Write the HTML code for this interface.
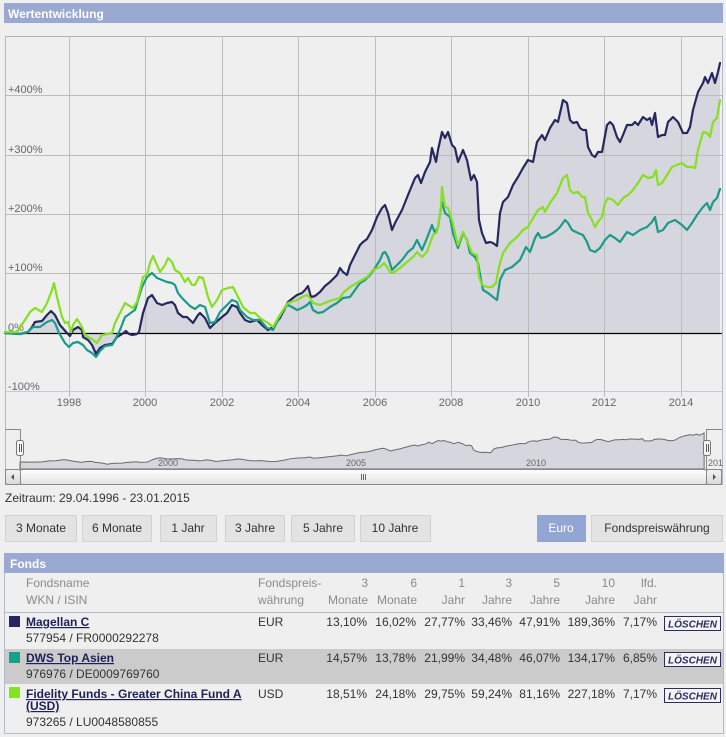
<!DOCTYPE html>
<html><head><meta charset="utf-8"><style>
html,body{margin:0;padding:0;background:#efefef;}
body{width:726px;height:737px;overflow:hidden;}
svg{display:block;font-family:"Liberation Sans",Arial,sans-serif;}
</style></head><body>
<svg width="726" height="737" viewBox="0 0 726 737" xmlns="http://www.w3.org/2000/svg">
<defs>
<linearGradient id="sb" x1="0" y1="0" x2="0" y2="1"><stop offset="0" stop-color="#ffffff"/><stop offset="1" stop-color="#e2e2e2"/></linearGradient>
<linearGradient id="btn" x1="0" y1="0" x2="0" y2="1"><stop offset="0" stop-color="#f4f4f4"/><stop offset="1" stop-color="#d8d8d8"/></linearGradient>
<clipPath id="navclip"><rect x="5" y="420" width="717" height="60"/></clipPath>
</defs>
<rect width="726" height="737" fill="#efefef"/>
<!-- Title bar -->
<rect x="4" y="3" width="719" height="20" fill="#9aa9d1"/>
<text x="8" y="18" font-size="12" font-weight="bold" fill="#ffffff">Wertentwicklung</text>

<!-- Magellan area fill -->
<polygon fill="#d6d6df" points="5,333 20,334 28,332 32,327 35,322 42,321 47,315 51,311 55,315 60,325 67,333 70,336 73,330 78,327 82,330 83,337 88,340 92,345 96,354 100,348 105,345 112,344 117,337 122,334 126,331 129,334 132,335 137,334 139,332 143,313 148,298 152,295 157,303 162,305 167,303 172,302 175,305 178,313 183,317 187,317 190,320 193,323 198,315 200,313 205,318 210,328 215,323 222,317 227,313 232,305 237,307 240,313 245,320 250,322 257,320 262,325 268,330 273,327 280,318 288,302 293,298 297,295 302,293 305,290 308,286 311,297 315,296 320,292 325,286 330,282 337,275 340,268 343,272 347,275 350,265 355,255 360,245 363,242 367,239 372,230 377,217 382,208 385,205 388,213 392,230 395,223 402,210 408,195 415,178 418,175 421,183 425,172 430,162 432,148 436,162 438,150 442,132 445,138 448,132 452,145 455,148 458,162 463,150 467,160 471,180 474,175 477,182 479,220 482,233 486,243 490,242 493,243 497,246 500,213 503,202 508,197 513,185 518,177 523,168 528,160 533,162 537,142 542,135 545,140 550,128 555,120 558,122 563,100 567,103 570,120 573,123 577,122 580,128 583,130 586,130 588,147 592,155 595,157 598,152 602,152 607,125 610,122 613,125 617,137 620,142 623,135 627,125 632,125 635,122 638,125 643,117 647,120 650,118 652,125 655,113 658,137 662,135 665,135 668,122 673,117 678,122 683,133 687,133 690,127 693,110 698,92 703,83 705,77 708,83 712,73 715,83 718,72 720,63 720,333"/>

<!-- grid -->
<g stroke="#bcbcbc" stroke-width="1" shape-rendering="crispEdges">
<line x1="5" y1="36.5" x2="722" y2="36.5" stroke="#b4b4b4"/>
<line x1="5" y1="95.5" x2="722" y2="95.5"/>
<line x1="5" y1="155.5" x2="722" y2="155.5"/>
<line x1="5" y1="214.5" x2="722" y2="214.5"/>
<line x1="5" y1="273.5" x2="722" y2="273.5"/>
<line x1="69.5" y1="36" x2="69.5" y2="397"/>
<line x1="145.5" y1="36" x2="145.5" y2="397"/>
<line x1="222.5" y1="36" x2="222.5" y2="397"/>
<line x1="298.5" y1="36" x2="298.5" y2="397"/>
<line x1="375.5" y1="36" x2="375.5" y2="397"/>
<line x1="451.5" y1="36" x2="451.5" y2="397"/>
<line x1="528.5" y1="36" x2="528.5" y2="397"/>
<line x1="604.5" y1="36" x2="604.5" y2="397"/>
<line x1="681.5" y1="36" x2="681.5" y2="397"/>
<line x1="5" y1="391.5" x2="722" y2="391.5" stroke="#c2c9da"/>
<line x1="5.5" y1="36" x2="5.5" y2="485" stroke="#b0b8cc"/>
<line x1="722.5" y1="36" x2="722.5" y2="485" stroke="#b0b8cc"/>
</g>

<!-- y labels -->
<g font-size="11" fill="#666">
<text x="8" y="93">+400%</text>
<text x="8" y="153">+300%</text>
<text x="8" y="212">+200%</text>
<text x="8" y="271">+100%</text>
<text x="8" y="331">0%</text>
<text x="8" y="390">-100%</text>
</g>
<!-- x labels -->
<g font-size="11" fill="#666" text-anchor="middle">
<text x="69" y="406">1998</text>
<text x="145" y="406">2000</text>
<text x="222" y="406">2002</text>
<text x="298" y="406">2004</text>
<text x="375" y="406">2006</text>
<text x="451" y="406">2008</text>
<text x="528" y="406">2010</text>
<text x="604" y="406">2012</text>
<text x="681" y="406">2014</text>
</g>

<!-- zero line -->
<line x1="5" y1="333.5" x2="722" y2="333.5" stroke="#000" stroke-width="1.3"/>

<!-- series -->
<g fill="none" stroke-width="2.2" stroke-linejoin="round" stroke-linecap="round">
<polyline stroke="#26295e" points="5,333 20,334 28,332 32,327 35,322 42,321 47,315 51,311 55,315 60,325 67,333 70,336 73,330 78,327 82,330 83,337 88,340 92,345 96,354 100,348 105,345 112,344 117,337 122,334 126,331 129,334 132,335 137,334 139,332 143,313 148,298 152,295 157,303 162,305 167,303 172,302 175,305 178,313 183,317 187,317 190,320 193,323 198,315 200,313 205,318 210,328 215,323 222,317 227,313 232,305 237,307 240,313 245,320 250,322 257,320 262,325 268,330 273,327 280,318 288,302 293,298 297,295 302,293 305,290 308,286 311,297 315,296 320,292 325,286 330,282 337,275 340,268 343,272 347,275 350,265 355,255 360,245 363,242 367,239 372,230 377,217 382,208 385,205 388,213 392,230 395,223 402,210 408,195 415,178 418,175 421,183 425,172 430,162 432,148 436,162 438,150 442,132 445,138 448,132 452,145 455,148 458,162 463,150 467,160 471,180 474,175 477,182 479,220 482,233 486,243 490,242 493,243 497,246 500,213 503,202 508,197 513,185 518,177 523,168 528,160 533,162 537,142 542,135 545,140 550,128 555,120 558,122 563,100 567,103 570,120 573,123 577,122 580,128 583,130 586,130 588,147 592,155 595,157 598,152 602,152 607,125 610,122 613,125 617,137 620,142 623,135 627,125 632,125 635,122 638,125 643,117 647,120 650,118 652,125 655,113 658,137 662,135 665,135 668,122 673,117 678,122 683,133 687,133 690,127 693,110 698,92 703,83 705,77 708,83 712,73 715,83 718,72 720,63"/>
<polyline stroke="#1a9b88" points="5,333 20,334 28,332 33,327 40,327 47,322 52,320 55,323 59,333 65,343 69,347 73,343 78,342 83,345 87,350 92,353 96,357 100,351 105,346 112,345 115,340 120,330 125,317 128,315 132,312 135,310 138,300 142,287 147,277 152,273 157,278 162,280 167,282 172,283 175,285 178,293 182,298 187,303 190,306 195,309 200,305 205,307 210,323 215,322 220,312 227,305 232,300 237,302 240,310 247,317 253,320 260,320 267,328 273,330 278,320 285,307 288,305 292,307 297,310 302,308 307,305 310,302 313,310 318,313 323,312 330,307 337,303 343,298 350,297 355,290 360,283 365,280 370,275 375,268 380,260 383,253 385,252 388,257 392,270 395,267 402,260 408,252 413,248 417,240 422,250 427,238 432,225 435,233 438,227 442,202 445,213 450,217 453,233 458,248 463,233 467,240 470,253 475,257 478,263 481,280 483,290 488,293 493,297 497,300 500,280 505,270 512,267 520,260 526,247 530,252 535,238 538,233 541,238 546,237 553,233 557,230 560,227 565,220 568,223 572,230 578,233 583,235 587,242 590,250 595,252 600,248 605,240 610,235 615,238 620,242 627,232 633,235 640,230 647,227 652,222 655,217 658,232 663,230 668,223 675,220 682,225 687,230 692,223 697,215 703,207 707,203 710,210 713,202 717,198 720,189"/>
<polyline stroke="#86e01e" points="5,332 17,332 23,323 30,312 35,308 42,312 47,303 52,290 54,283 57,297 62,317 65,323 68,322 71,332 73,325 77,319 82,327 85,335 88,337 93,340 97,343 102,335 107,334 112,333 115,323 120,313 125,303 128,305 133,308 137,302 140,290 143,277 147,275 150,263 153,256 157,265 160,272 165,265 168,258 172,262 175,270 180,273 185,282 188,278 192,285 195,285 199,277 203,278 208,297 212,307 217,300 222,290 228,288 233,287 238,297 243,307 250,313 255,313 260,318 268,323 273,327 278,318 283,310 288,303 297,300 302,297 307,295 310,298 313,303 320,305 327,302 333,300 340,298 343,293 350,287 357,283 362,280 367,277 373,270 380,267 384,263 387,267 390,272 393,273 400,268 407,262 413,257 417,252 422,257 427,252 433,235 437,232 441,207 442,187 445,207 448,208 452,220 455,233 458,245 463,232 468,243 472,253 477,255 479,277 482,285 487,287 492,287 496,283 499,267 503,253 510,243 517,237 523,230 528,227 533,218 538,210 543,207 545,212 550,203 557,193 563,178 567,175 570,190 573,193 578,192 582,197 585,197 588,213 592,220 595,227 598,222 602,217 605,203 608,198 613,200 618,205 623,198 628,195 633,190 638,183 643,175 648,178 653,177 656,170 658,185 662,183 667,175 672,167 677,165 682,163 687,167 692,167 695,168 698,150 703,132 707,133 710,137 713,122 717,118 720,100"/>
</g>

<!-- navigator -->
<g clip-path="url(#navclip)">
<g transform="matrix(0.9568 0 0 0.107 15.216 426.37)">
<polygon fill="#d6d6df" stroke="#6a6a6a" stroke-width="1" vector-effect="non-scaling-stroke" points="5,398.4 5,333 20,334 28,332 32,327 35,322 42,321 47,315 51,311 55,315 60,325 67,333 70,336 73,330 78,327 82,330 83,337 88,340 92,345 96,354 100,348 105,345 112,344 117,337 122,334 126,331 129,334 132,335 137,334 139,332 143,313 148,298 152,295 157,303 162,305 167,303 172,302 175,305 178,313 183,317 187,317 190,320 193,323 198,315 200,313 205,318 210,328 215,323 222,317 227,313 232,305 237,307 240,313 245,320 250,322 257,320 262,325 268,330 273,327 280,318 288,302 293,298 297,295 302,293 305,290 308,286 311,297 315,296 320,292 325,286 330,282 337,275 340,268 343,272 347,275 350,265 355,255 360,245 363,242 367,239 372,230 377,217 382,208 385,205 388,213 392,230 395,223 402,210 408,195 415,178 418,175 421,183 425,172 430,162 432,148 436,162 438,150 442,132 445,138 448,132 452,145 455,148 458,162 463,150 467,160 471,180 474,175 477,182 479,220 482,233 486,243 490,242 493,243 497,246 500,213 503,202 508,197 513,185 518,177 523,168 528,160 533,162 537,142 542,135 545,140 550,128 555,120 558,122 563,100 567,103 570,120 573,123 577,122 580,128 583,130 586,130 588,147 592,155 595,157 598,152 602,152 607,125 610,122 613,125 617,137 620,142 623,135 627,125 632,125 635,122 638,125 643,117 647,120 650,118 652,125 655,113 658,137 662,135 665,135 668,122 673,117 678,122 683,133 687,133 690,127 693,110 698,92 703,83 705,77 708,83 712,73 715,83 718,72 720,63 720,398.4"/>
</g>
</g>
<g font-size="9" fill="#666">
<text x="158" y="466">2000</text>
<text x="346" y="466">2005</text>
<text x="526" y="466">2010</text>
<text x="708" y="466">201</text>
</g>
<g stroke="#888" stroke-width="1" fill="none" shape-rendering="crispEdges">
<path d="M5 429.5 H20.5 V469"/>
<path d="M706.5 469 V429.5 H722"/>
</g>
<!-- handles -->
<g stroke="#777" stroke-width="1" fill="#f8f8f8">
<rect x="16.5" y="440.5" width="7" height="15" rx="2"/>
<rect x="703.5" y="440.5" width="7" height="15" rx="2"/>
</g>
<g stroke="#555" stroke-width="1" shape-rendering="crispEdges">
<line x1="19.5" y1="444" x2="19.5" y2="452"/><line x1="21.5" y1="444" x2="21.5" y2="452"/>
<line x1="706.5" y1="444" x2="706.5" y2="452"/><line x1="708.5" y1="444" x2="708.5" y2="452"/>
</g>
<!-- scrollbar -->
<rect x="5.5" y="469.5" width="716" height="15" fill="#e8e8e8" stroke="#999"/>
<rect x="20.5" y="469.5" width="686" height="15" rx="2" fill="url(#sb)" stroke="#888"/>
<rect x="5.5" y="469.5" width="15" height="15" rx="2" fill="url(#btn)" stroke="#888"/>
<rect x="706.5" y="469.5" width="15" height="15" rx="2" fill="url(#btn)" stroke="#888"/>
<polygon points="14,474 14,480 11,477" fill="#555"/>
<polygon points="713,474 713,480 716,477" fill="#555"/>
<g stroke="#666" stroke-width="1" shape-rendering="crispEdges">
<line x1="361.5" y1="474" x2="361.5" y2="480"/><line x1="363.5" y1="474" x2="363.5" y2="480"/><line x1="365.5" y1="474" x2="365.5" y2="480"/>
</g>

<!-- Zeitraum -->
<text x="5" y="502" font-size="12" fill="#333">Zeitraum: 29.04.1996 - 23.01.2015</text>

<!-- buttons -->
<g fill="#e3e3e3" stroke="#d2d2d2" shape-rendering="crispEdges">
<rect x="5.5" y="515.5" width="71" height="26"/>
<rect x="82.5" y="515.5" width="69" height="26"/>
<rect x="160.5" y="515.5" width="56" height="26"/>
<rect x="225.5" y="515.5" width="59" height="26"/>
<rect x="291.5" y="515.5" width="63" height="26"/>
<rect x="360.5" y="515.5" width="70" height="26"/>
<rect x="591.5" y="515.5" width="131" height="26"/>
</g>
<rect x="537" y="515" width="49" height="27" fill="#93a5d2"/>
<g font-size="12" fill="#333" text-anchor="middle">
<text x="41" y="532">3 Monate</text>
<text x="117" y="532">6 Monate</text>
<text x="188" y="532">1 Jahr</text>
<text x="255" y="532">3 Jahre</text>
<text x="323" y="532">5 Jahre</text>
<text x="395" y="532">10 Jahre</text>
<text x="561" y="532" fill="#ffffff">Euro</text>
<text x="657" y="532">Fondspreiswährung</text>
</g>

<!-- Fonds table -->
<rect x="4" y="553" width="720" height="20" fill="#9aa9d1"/>
<text x="10" y="568" font-size="12" font-weight="bold" fill="#ffffff">Fonds</text>
<rect x="5" y="649" width="718" height="35" fill="#cbcbcb"/>
<g stroke="#b4bacb" stroke-width="1" shape-rendering="crispEdges" fill="none">
<line x1="4.5" y1="573" x2="4.5" y2="733"/>
<line x1="723.5" y1="573" x2="723.5" y2="733"/>
<line x1="4" y1="612.5" x2="724" y2="612.5"/>
<line x1="4" y1="733.5" x2="724" y2="733.5"/>
</g>
<g font-size="12" fill="#8a8a8a">
<text x="26" y="587">Fondsname</text>
<text x="26" y="604">WKN / ISIN</text>
<text x="258" y="587">Fondspreis-</text>
<text x="258" y="604">währung</text>
<g text-anchor="end">
<text x="368" y="587">3</text><text x="368" y="604">Monate</text>
<text x="417" y="587">6</text><text x="417" y="604">Monate</text>
<text x="465" y="587">1</text><text x="465" y="604">Jahr</text>
<text x="512" y="587">3</text><text x="512" y="604">Jahre</text>
<text x="560" y="587">5</text><text x="560" y="604">Jahre</text>
<text x="615" y="587">10</text><text x="615" y="604">Jahre</text>
<text x="657" y="587">lfd.</text><text x="657" y="604">Jahr</text>
</g>
</g>

<!-- squares -->
<rect x="9" y="616" width="11" height="11" fill="#222566"/>
<rect x="9" y="652" width="11" height="11" fill="#17a08a"/>
<rect x="9" y="687" width="11" height="11" fill="#80e81a"/>

<g font-size="12" font-weight="bold" fill="#1e2157">
<text x="26" y="626" text-decoration="underline">Magellan C</text>
<text x="26" y="662" text-decoration="underline">DWS Top Asien</text>
<text x="26" y="698" text-decoration="underline">Fidelity Funds - Greater China Fund A</text>
<text x="26" y="710" text-decoration="underline">(USD)</text>
</g>
<g font-size="12" fill="#333">
<text x="26" y="642">577954 / FR0000292278</text>
<text x="26" y="678">976976 / DE0009769760</text>
<text x="26" y="726">973265 / LU0048580855</text>
<text x="258" y="626">EUR</text>
<text x="258" y="662">EUR</text>
<text x="258" y="698">USD</text>
<g text-anchor="end">
<text x="367" y="626">13,10%</text><text x="416" y="626">16,02%</text><text x="465" y="626">27,77%</text><text x="512" y="626">33,46%</text><text x="560" y="626">47,91%</text><text x="615" y="626">189,36%</text><text x="657" y="626">7,17%</text>
<text x="367" y="662">14,57%</text><text x="416" y="662">13,78%</text><text x="465" y="662">21,99%</text><text x="512" y="662">34,48%</text><text x="560" y="662">46,07%</text><text x="615" y="662">134,17%</text><text x="657" y="662">6,85%</text>
<text x="367" y="698">18,51%</text><text x="416" y="698">24,18%</text><text x="465" y="698">29,75%</text><text x="512" y="698">59,24%</text><text x="560" y="698">81,16%</text><text x="615" y="698">227,18%</text><text x="657" y="698">7,17%</text>
</g>
</g>

<!-- Löschen buttons -->
<g fill="#f4f4f4" stroke="#2a2d5e" stroke-width="1" shape-rendering="crispEdges">
<rect x="664.5" y="616.5" width="56" height="14"/>
<rect x="664.5" y="652.5" width="56" height="14"/>
<rect x="664.5" y="688.5" width="56" height="14"/>
</g>
<g font-size="10" font-weight="bold" font-style="italic" fill="#2a2d5e" text-anchor="middle">
<text x="692.5" y="627.5">LÖSCHEN</text>
<text x="692.5" y="663.5">LÖSCHEN</text>
<text x="692.5" y="699.5">LÖSCHEN</text>
</g>
</svg>
</body></html>
